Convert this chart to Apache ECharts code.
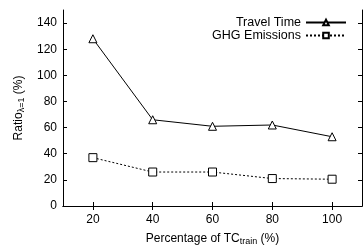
<!DOCTYPE html>
<html>
<head>
<meta charset="utf-8">
<script src="https://cdn.jsdelivr.net/npm/echarts@6/dist/echarts.min.js"></script>
<style>
html, body { margin: 0; padding: 0; background: #fff; }
#chart { width: 363px; height: 246px; }
</style>
</head>
<body>
<div id="chart"></div>
<script>
var percentages = [20, 40, 60, 80, 100];
var travelTime = [128, 66, 61, 62, 53];
var ghgEmissions = [37, 26, 26, 21, 20.5];
var yTicks = [0, 20, 40, 60, 80, 100, 120, 140];

var font = 'Liberation Sans';

function pairs(ys) {
	return percentages.map(function (x, i) { return [x, ys[i]]; });
}

var chart = echarts.init(document.getElementById('chart'));
var option = {
	animation: false,
	textStyle: { fontFamily: font, color: '#000' },
	grid: { left: 63, right: 1, top: 10, bottom: 40, outerBoundsMode: 'none', containLabel: false },
	legend: {
		right: 11,
		top: 11,
		orient: 'vertical',
		align: 'right',
		itemGap: 0,
		itemWidth: 40,
		itemHeight: 7,
		textStyle: { fontFamily: font, fontSize: 12.5, lineHeight: 12, color: '#000' },
		data: ['Travel Time', 'GHG Emissions']
	},
	xAxis: [
		{
			type: 'value',
			min: 10,
			max: 110,
			name: 'Percentage of TC{sub|train} (%)',
			nameLocation: 'middle',
			nameGap: 25,
			nameTextStyle: {
				fontFamily: font, fontSize: 12, color: '#000',
				rich: { sub: { fontSize: 9, verticalAlign: 'bottom', padding: [6, 0, 0, 0], fontFamily: font } }
			},
			axisLine: { lineStyle: { color: '#000', width: 1 } },
			axisTick: { inside: true, length: 4, customValues: percentages, lineStyle: { color: '#000' } },
			axisLabel: { fontSize: 12, color: '#000', fontFamily: font, margin: 8, customValues: percentages },
			splitLine: { show: false }
		},
		{
			type: 'value',
			position: 'top',
			min: 10,
			max: 110,
			axisLine: { lineStyle: { color: '#000', width: 1 } },
			axisTick: { inside: true, length: 4, customValues: percentages, lineStyle: { color: '#000' } },
			axisLabel: { show: false },
			splitLine: { show: false }
		}
	],
	yAxis: [
		{
			type: 'value',
			min: 0,
			max: 150,
			name: 'Ratio{sub|λ=1} (%)',
			nameLocation: 'middle',
			nameRotate: 90,
			nameGap: 30,
			nameTextStyle: {
				fontFamily: font, fontSize: 12, color: '#000',
				rich: { sub: { fontSize: 9, verticalAlign: 'bottom', padding: [6, 0, 0, 0], fontFamily: font } }
			},
			axisLine: { show: true, lineStyle: { color: '#000', width: 1 } },
			axisTick: { show: true, inside: true, length: 4, customValues: yTicks, lineStyle: { color: '#000' } },
			axisLabel: { fontSize: 12, color: '#000', fontFamily: font, margin: 6, customValues: yTicks },
			splitLine: { show: false }
		},
		{
			type: 'value',
			position: 'right',
			min: 0,
			max: 150,
			axisLine: { show: true, lineStyle: { color: '#000', width: 1 } },
			axisTick: { show: true, inside: true, length: 4, customValues: yTicks, lineStyle: { color: '#000' } },
			axisLabel: { show: false },
			splitLine: { show: false }
		}
	],
	series: [
		{
			name: 'Travel Time',
			type: 'line',
			data: pairs(travelTime),
			symbol: 'triangle',
			symbolSize: 8,
			showAllSymbol: true,
			lineStyle: { color: '#000', width: 1 },
			itemStyle: { color: '#fff', borderColor: '#000', borderWidth: 1 }
		},
		{
			name: 'GHG Emissions',
			type: 'line',
			data: pairs(ghgEmissions),
			symbol: 'rect',
			symbolSize: 8,
			showAllSymbol: true,
			lineStyle: { color: '#000', width: 1, type: [2, 2] },
			itemStyle: { color: '#fff', borderColor: '#000', borderWidth: 1 }
		}
	]
};
chart.setOption(option);
</script>
</body>
</html>
